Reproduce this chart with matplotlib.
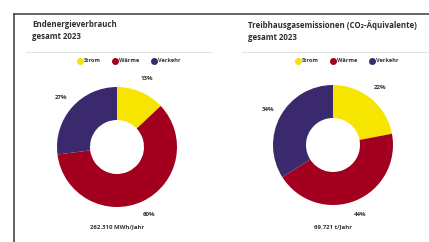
import numpy as np
import matplotlib.pyplot as plt
from matplotlib.lines import Line2D

# Daten
kategorien = ['Strom', 'Wärme', 'Verkehr']
farben = ['#F6E500', '#A3001F', '#3B296E']

titel_links = 'Endenergieverbrauch\ngesamt 2023'
werte_links = [13, 60, 27]
summe_links = '262.310 MWh/Jahr'

titel_rechts = 'Treibhausgasemissionen (CO₂-Äquivalente)\ngesamt 2023'
werte_rechts = [22, 44, 34]
summe_rechts = '69.721 t/Jahr'

W, H = 429, 242
fonts = ['Open Sans', 'DejaVu Sans']
plt.rcParams['font.family'] = fonts

fig = plt.figure(figsize=(W / 100, H / 100), dpi=100)
fig.patch.set_facecolor('white')


def px(x, y):
    # Pixel -> Figurkoordinaten
    return x / W, 1 - y / H


# Rahmen oben und links
fig.add_artist(Line2D([14 / W, 1], [1 - 14 / H, 1 - 14 / H], color='#3a3a3a', lw=1.1))
fig.add_artist(Line2D([14 / W, 14 / W], [1 - 14 / H, 0], color='#3a3a3a', lw=1.1))


def donut(cx, cy, werte, titel, summe, tx, sep, leg_cx):
    r = 60
    ax = fig.add_axes([(cx - r) / W, (H - cy - r) / H, 2 * r / W, 2 * r / H])
    ax.pie(werte, colors=farben, startangle=90, counterclock=False,
           radius=1, wedgeprops=dict(width=0.55, edgecolor='none'))
    # Prozentwerte ausserhalb
    start = 90.0
    for v in werte:
        mitte = start - v / 2 * 3.6
        a = np.deg2rad(mitte)
        ax.text(1.24 * np.cos(a), 1.24 * np.sin(a), f'{v}%', ha='center', va='center',
                fontsize=4.4, fontweight='bold', color='#333333')
        start -= v * 3.6
    ax.set_xlim(-1, 1)
    ax.set_ylim(-1, 1)
    ax.set_aspect('equal')
    ax.axis('off')

    # Titel
    x, y = px(tx, 20)
    fig.text(x, y, titel, ha='left', va='top', fontsize=5.7, fontweight='bold',
             color='#2e2e2e', linespacing=1.45)
    # Trennlinie
    fig.add_artist(Line2D([sep[0] / W, sep[1] / W], [1 - 52 / H] * 2, color='#dddddd', lw=0.6))
    # Legende
    handles = [Line2D([], [], marker='o', ls='none', color=c, markersize=4) for c in farben]
    x, y = px(leg_cx, 61)
    leg = fig.legend(handles, kategorien, loc='center', bbox_to_anchor=(x, y), ncol=3,
                     frameon=False, fontsize=4.1, handletextpad=0.25, columnspacing=2.2,
                     handlelength=0.8, borderpad=0)
    for t in leg.get_texts():
        t.set_fontweight('bold')
        t.set_color('#333333')
    # Summe
    x, y = px(cx, 227)
    fig.text(x, y, summe, ha='center', va='center', fontsize=4.3, fontweight='bold',
             color='#333333')


donut(117, 147, werte_links, titel_links, summe_links, 32, (26, 212), 129)
donut(333, 145, werte_rechts, titel_rechts, summe_rechts, 248, (242, 429), 347)

fig.savefig('out.png', dpi=100, facecolor='white')
